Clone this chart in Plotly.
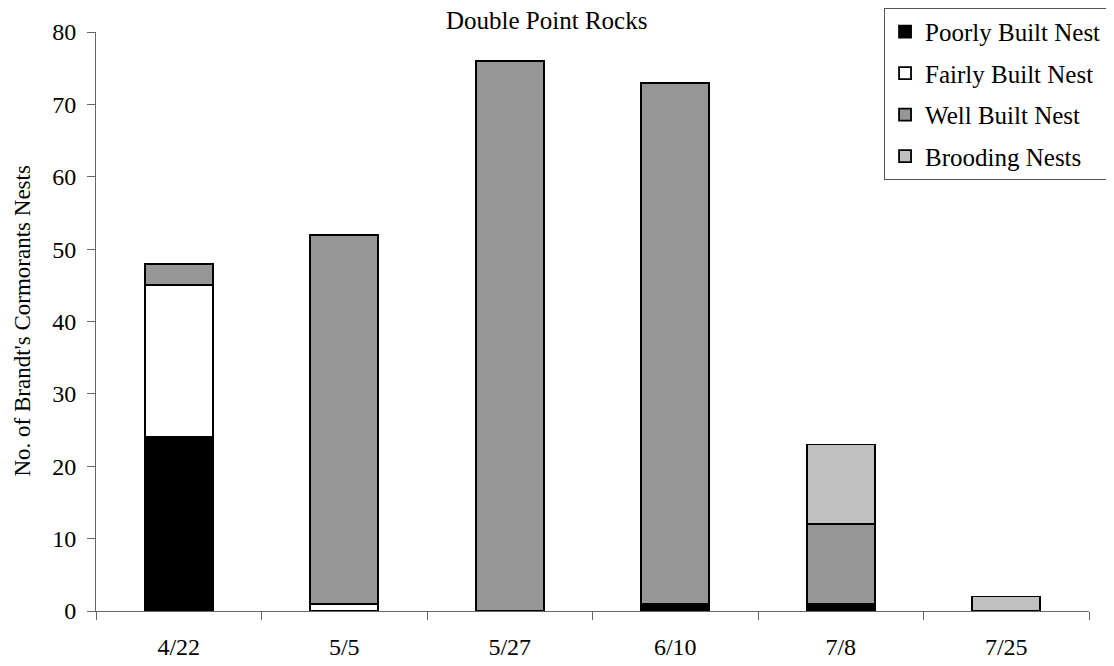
import plotly.graph_objects as go

dates = ["4/22", "5/5", "5/27", "6/10", "7/8", "7/25"]
poorly = [24, None, None, 1, 1, None]
fairly = [21, 1, None, None, None, None]
well = [3, 51, 76, 72, 11, None]
brooding = [None, None, None, None, 11, 2]

series = [
    ("Poorly Built Nest", poorly, "#000000"),
    ("Fairly Built Nest", fairly, "#FFFFFF"),
    ("Well Built Nest", well, "#969696"),
    ("Brooding Nests", brooding, "#C0C0C0"),
]

fig = go.Figure()
for name, vals, col in series:
    fig.add_trace(go.Bar(
        x=dates, y=vals, name=name, legendgroup=name,
        marker=dict(color=col, line=dict(color="#000000", width=1.8)),
    ))

font = "Liberation Serif"
fig.update_layout(
    barmode="stack",
    bargap=0.59,
    width=1106, height=658,
    margin=dict(l=88, r=25, t=24, b=55, autoexpand=False),
    plot_bgcolor="white", paper_bgcolor="white",
    font=dict(family=font, size=24, color="black"),
    showlegend=True,
    legend=dict(
        x=0.7936, y=1.0415, xanchor="left", yanchor="top",
        bordercolor="#555555", borderwidth=1, bgcolor="white",
        traceorder="reversed+grouped", tracegroupgap=6,
        font=dict(family=font, size=25), itemwidth=30,
    ),
    xaxis=dict(
        type="category", tickson="boundaries", ticks="outside", ticklen=8,
        tickcolor="#666666", showline=True, linecolor="#666666", linewidth=1,
        showgrid=False, tickfont=dict(family=font, size=24), automargin=False,
        ticklabelstandoff=14,
    ),
    yaxis=dict(
        range=[0, 80], dtick=10, ticks="outside", ticklen=8, tickcolor="#666666",
        showline=True, linecolor="#666666", linewidth=1, showgrid=False,
        zeroline=False, tickfont=dict(family=font, size=24), automargin=False,
        ticklabelstandoff=6,
    ),
    annotations=[
        dict(
            text="Double Point Rocks", xref="paper", yref="paper", x=0.454, y=1.0207,
            xanchor="center", yanchor="middle", showarrow=False,
            font=dict(family=font, size=25),
        ),
        dict(
            text="No. of Brandt's Cormorants Nests", xref="paper", yref="paper",
            x=-0.0745, y=0.5, xanchor="center", yanchor="middle", textangle=-90,
            showarrow=False, font=dict(family=font, size=23),
        ),
    ],
)

fig.write_html("out.html")
